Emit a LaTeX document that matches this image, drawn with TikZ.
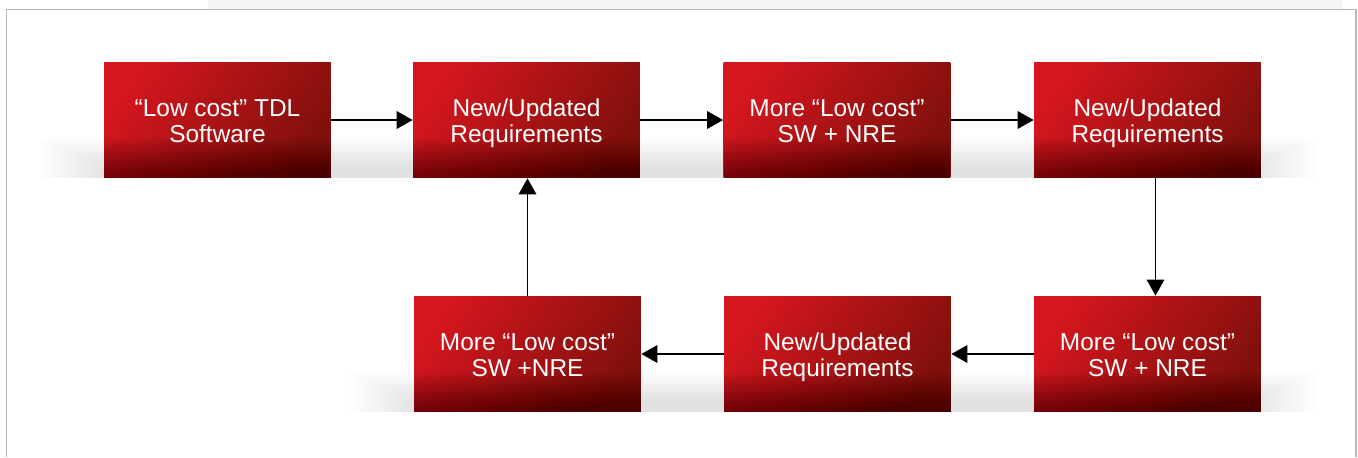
\documentclass[tikz,border=0pt]{standalone}
\usepackage{fontspec}
\setmainfont{Liberation Sans}
\usetikzlibrary{arrows.meta}
\definecolor{boxlight}{RGB}{212,22,30}
\definecolor{boxdark}{RGB}{128,16,12}
\definecolor{framegray}{RGB}{184,184,184}
% soft shadow under a row of boxes: from x #1 to x #2, bottom edge at y #3
\def\shelf(#1,#2,#3){\foreach \k in {0,...,14} {\fill[black, opacity=0.009] ({#1+\k*5},{#3-40+\k*2}) rectangle ({#2-\k*5},#3);}}

\tikzset{
  redbox/.style={top color=boxlight, bottom color=boxdark, shading angle=55,
    minimum width=4.54cm, minimum height=2.32cm, inner sep=0pt,
    align=center, text=white, font=\fontsize{13.9}{15.1}\selectfont,
    execute at begin node={\rule[-4pt]{0pt}{34pt}},
    path picture={\foreach \k in {1,...,20}
      \fill[black, opacity=0.024] (path picture bounding box.south west) rectangle ([yshift=\k*0.04cm]path picture bounding box.south east);}},
  flow/.style={line width=1pt, -{Triangle[length=0.32cm, width=0.35cm]}}
}

\begin{document}
\begin{tikzpicture}[x=0.02cm, y=-0.02cm]
		%%%%% START %%%%%
		\useasboundingbox (0,0) rectangle (1358,457);
		
		\fill[black!4] (208,0) rectangle (1342,8.5);
		\draw[framegray, line width=1.1pt] (6.5,457) -- (6.5,9.5) -- (1356,9.5) -- (1356,457);
		
		\shelf(40,1315,178)
		\shelf(350,1315,412)
		
		% top row
		\node[redbox] (tdl) at (217.5,120) {“Low cost” TDL\\Software};
		\node[redbox] (req1) at (526.5,120) {New/Updated\\Requirements};
		\node[redbox] (cost1) at (837,120) {More “Low cost”\\SW + NRE};
		\node[redbox] (req2) at (1147.5,120) {New/Updated\\Requirements};
		
		% bottom row
		\node[redbox] (cost2) at (1147.5,354) {More “Low cost”\\SW + NRE};
		\node[redbox] (req3) at (837.5,354) {New/Updated\\Requirements};
		\node[redbox] (cost3) at (527.5,354) {More “Low cost”\\SW +NRE};
		
		\draw[flow] (tdl) -- (req1);
		\draw[flow] (req1) -- (cost1);
		\draw[flow] (cost1) -- (req2);
		\draw[flow] ([xshift=0.16cm]req2.south) -- ([xshift=0.16cm]cost2.north);
		\draw[flow] (cost2) -- (req3);
		\draw[flow] (req3) -- (cost3);
		\draw[flow] (cost3.north) -- (cost3.north |- req1.south);
		
		%%%%% END %%%%%
\end{tikzpicture}
\end{document}
